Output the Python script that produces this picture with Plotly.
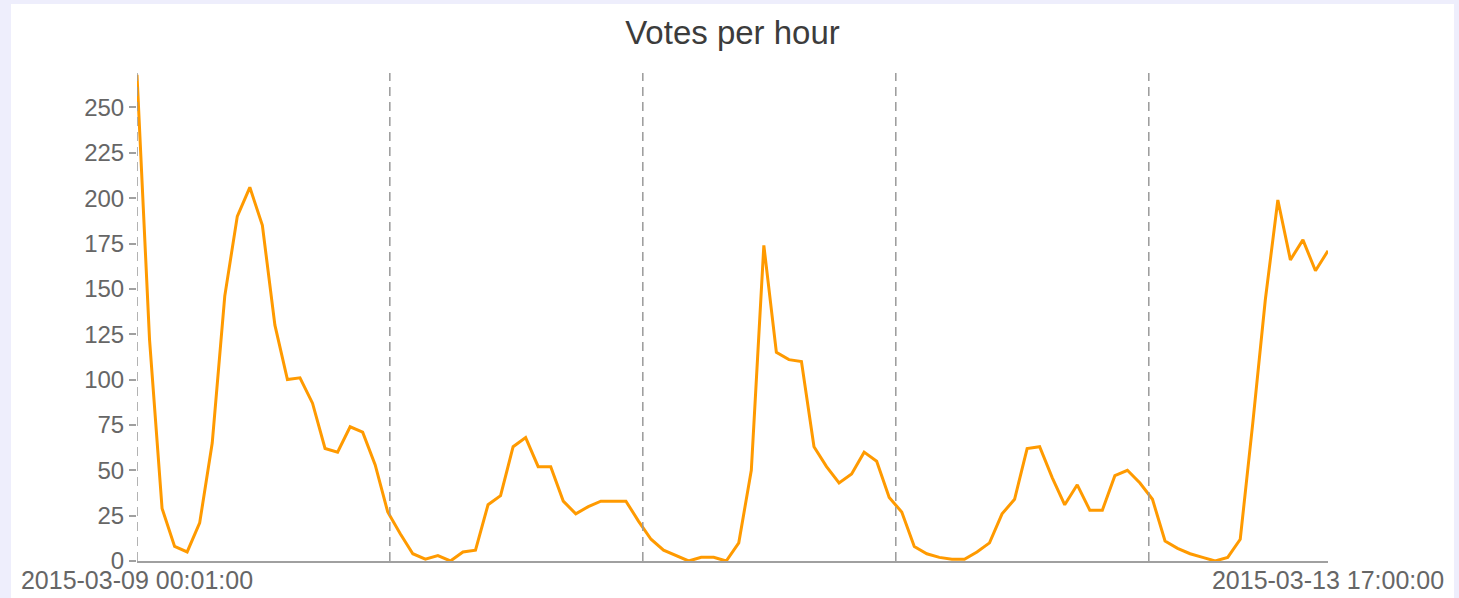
import pandas as pd
import plotly.graph_objects as go

title_text = "Votes per hour"
start_time = "2015-03-09 00:01:00"
end_time = "2015-03-13 17:00:00"
day_boundaries = ["2015-03-09 00:01:00", "2015-03-10 00:00:00", "2015-03-11 00:00:00",
                  "2015-03-12 00:00:00", "2015-03-13 00:00:00"]
y_ticks = [0, 25, 50, 75, 100, 125, 150, 175, 200, 225, 250]

votes = [268, 122, 29, 8, 5, 21, 65, 146, 190, 206, 185, 130, 100, 101, 87, 62, 60, 74, 71, 53,
         27, 15, 4, 1, 3, 0, 5, 6, 31, 36, 63, 68, 52, 52, 33, 26, 30, 33, 33, 33,
         22, 12, 6, 3, 0, 2, 2, 0, 10, 50, 174, 115, 111, 110, 63, 52, 43, 48, 60, 55,
         35, 27, 8, 4, 2, 1, 1, 5, 10, 26, 34, 62, 63, 46, 31, 42, 28, 28, 47, 50,
         43, 34, 11, 7, 4, 2, 0, 2, 12, 76, 144, 199, 166, 177, 160, 171]

times = pd.date_range(start_time, end_time, periods=len(votes))

fig = go.Figure()
fig.add_trace(go.Scatter(x=times, y=votes, mode="lines",
                         line=dict(color="#FF9A00", width=3), showlegend=False))

for d in day_boundaries:
    fig.add_vline(x=d, line=dict(color="#9a9a9a", width=1.5, dash="9px,6px"), layer="above")

fig.add_shape(type="rect", xref="paper", yref="paper", x0=-0.1058, x1=1.1058, y0=-0.2, y1=1.1414,
              fillcolor="white", line=dict(width=0), layer="below")

fig.update_layout(
    width=1459, height=598,
    margin=dict(l=137, r=131, t=73, b=37, autoexpand=False),
    paper_bgcolor="#EEEEFC", plot_bgcolor="white",
    title=dict(text=title_text, x=0.5, xref="paper", xanchor="center", y=0.945, yanchor="middle",
               font=dict(family="Liberation Sans, Arial", size=33, color="#3c3c3c")),
    font=dict(family="Liberation Sans, Arial", color="#666666"),
)
fig.update_xaxes(range=[start_time, end_time], tickmode="array",
                 tickvals=[start_time, end_time], ticktext=[start_time, end_time],
                 showgrid=False, zeroline=False, showline=True, linecolor="#a0a0a0", linewidth=1.5,
                 ticks="", automargin=False, ticklabelstandoff=-4,
                 tickfont=dict(size=25, color="#666666"))
fig.update_yaxes(range=[0, 269], tickmode="array", tickvals=y_ticks,
                 showgrid=False, zeroline=False, showline=False, automargin=False,
                 ticks="outside", ticklen=7, tickcolor="#a0a0a0", tickwidth=1.5,
                 tickfont=dict(size=24, color="#666666"))

fig.write_html("out.html", config={"displayModeBar": False},
               post_script="document.body.style.margin='0px';document.body.style.background='#EEEEFC';")
